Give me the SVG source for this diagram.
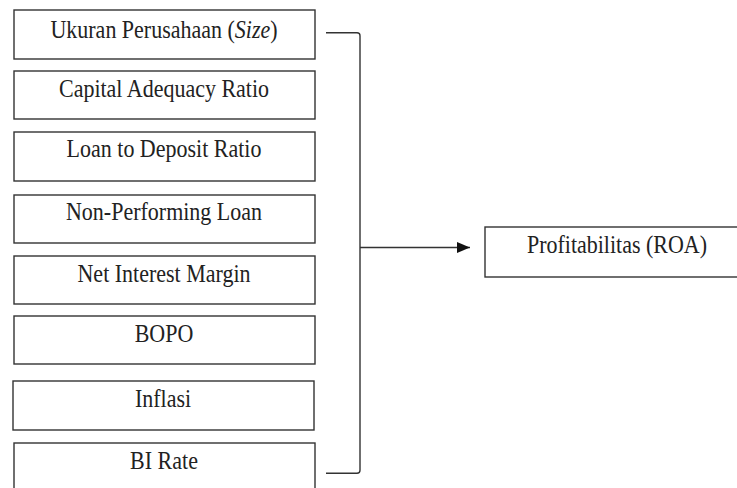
<svg xmlns="http://www.w3.org/2000/svg" width="737" height="488" viewBox="0 0 737 488">
<defs>
<style>
.box{fill:#fff;stroke:#333;stroke-width:1.4}
.lbl{font-family:'Liberation Serif','Times New Roman',serif;font-size:22px;fill:#222;text-anchor:middle}
.con{fill:none;stroke:#333;stroke-width:1.4}
</style>
<marker id="ah" viewBox="0 0 13 11" refX="13" refY="5.5" markerWidth="13" markerHeight="11" markerUnits="userSpaceOnUse" orient="auto">
<path d="M0,0 L13,5.5 L0,11 Z" fill="#111"/>
</marker>
</defs>
<rect width="737" height="488" fill="#fff"/>
<g id="n1"><rect class="box" x="14" y="10" width="301" height="49"/><text class="lbl" transform="translate(164,38) scale(1,1.18)">Ukuran Perusahaan (<tspan font-style="italic">Size</tspan>)</text></g>
<g id="n2"><rect class="box" x="14" y="71" width="301" height="48"/><text class="lbl" transform="translate(164,97) scale(1,1.18)">Capital Adequacy Ratio</text></g>
<g id="n3"><rect class="box" x="14" y="132" width="301" height="49"/><text class="lbl" transform="translate(164,157) scale(1,1.18)">Loan to Deposit Ratio</text></g>
<g id="n4"><rect class="box" x="14" y="195" width="301" height="48"/><text class="lbl" transform="translate(164,220) scale(1,1.18)">Non-Performing Loan</text></g>
<g id="n5"><rect class="box" x="14" y="256" width="301" height="48"/><text class="lbl" transform="translate(164,282) scale(1,1.18)">Net Interest Margin</text></g>
<g id="n6"><rect class="box" x="14" y="316" width="301" height="48"/><text class="lbl" transform="translate(164,342) scale(1,1.18)">BOPO</text></g>
<g id="n7"><rect class="box" x="13" y="381" width="301" height="49"/><text class="lbl" transform="translate(163,407) scale(1,1.18)">Inflasi</text></g>
<g id="n8"><rect class="box" x="14" y="443" width="301" height="60"/><text class="lbl" transform="translate(164,469) scale(1,1.18)">BI Rate</text></g>
<g id="n9"><rect class="box" x="485" y="227" width="264" height="50"/><text class="lbl" transform="translate(617,253) scale(1,1.18)">Profitabilitas (ROA)</text></g>
<g id="connectors">
<path class="con" d="M326,32.7 H357 Q360,32.7 360,35.7 V470.3 Q360,473.3 357,473.3 H326"/>
<line class="con" x1="360" y1="247.5" x2="470" y2="247.5" marker-end="url(#ah)"/>
</g>
</svg>
